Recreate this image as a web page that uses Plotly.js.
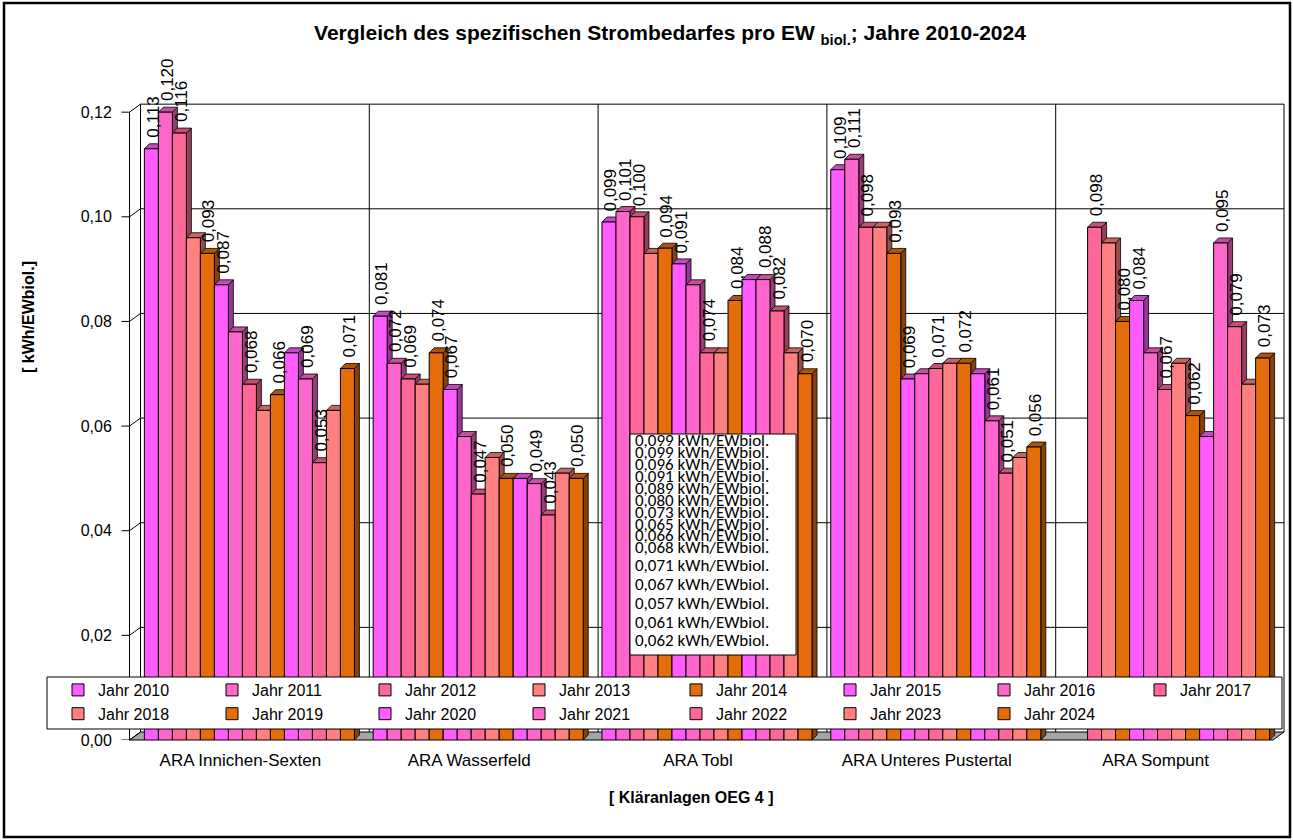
<!DOCTYPE html>
<html>
<head>
<meta charset="utf-8">
<script src="https://cdn.plot.ly/plotly-3.0.1.min.js"></script>
<style>
html,body{margin:0;padding:0;background:#fff;}
#chart{width:1293px;height:840px;}
</style>
</head>
<body>
<div id="chart"></div>
<script>
// ---------------- DATA ----------------
const categories = ['ARA Innichen-Sexten', 'ARA Wasserfeld', 'ARA Tobl', 'ARA Unteres Pustertal', 'ARA Sompunt'];
const seriesNames = ['Jahr 2010','Jahr 2011','Jahr 2012','Jahr 2013','Jahr 2014','Jahr 2015','Jahr 2016','Jahr 2017',
                     'Jahr 2018','Jahr 2019','Jahr 2020','Jahr 2021','Jahr 2022','Jahr 2023','Jahr 2024'];
// values per plant, one per year 2010..2024 (kWh/EWbiol.)
const innichenSexten   = [0.113,0.120,0.116,0.096,0.093,0.087,0.078,0.068,0.063,0.066,0.074,0.069,0.053,0.063,0.071];
const wasserfeld       = [0.081,0.072,0.069,0.068,0.074,0.067,0.058,0.047,0.054,0.050,0.050,0.049,0.043,0.051,0.050];
const tobl             = [0.099,0.101,0.100,0.093,0.094,0.091,0.087,0.074,0.074,0.084,0.088,0.088,0.082,0.074,0.070];
const unteresPustertal = [0.109,0.111,0.098,0.098,0.093,0.069,0.070,0.071,0.072,0.072,0.070,0.061,0.051,0.054,0.056];
const sompunt          = [null,null,0.098,0.095,0.080,0.084,0.074,0.067,0.072,0.062,0.058,0.095,0.079,0.068,0.073];
// series that carry data labels
const labeledSeries = ['Jahr 2010','Jahr 2011','Jahr 2012','Jahr 2014','Jahr 2015','Jahr 2017','Jahr 2019','Jahr 2021','Jahr 2022','Jahr 2024'];
// text box values
const boxValues = [0.099,0.099,0.096,0.091,0.089,0.080,0.073,0.065,0.066,0.068,0.071,0.067,0.057,0.061,0.062];
const boxUnit = 'kWh/EWbiol.';
const yTickValues = [0,0.02,0.04,0.06,0.08,0.10,0.12];

// ---------------- STYLE ----------------
const basePalette = ['#FF5BFF','#FF66CC','#FF6699','#FF8080','#E46C0A'];
const FONT = 'Liberation Sans, Arial, sans-serif';
const legendColumnTextX = [95, 249, 402, 556, 713, 867, 1021, 1177];   // px where legend texts start

const W = 1293, H = 840, mL = 47, mR = 9, mT = 86, mB = 100;
const PW = W - mL - mR, PH = H - mT - mB;
const AX0 = 135;                  // px where the category axis starts
const CW = 228.8;                 // px per category
const AXW = W - mR - AX0;
const xRange = [-0.5, -0.5 + AXW / CW];
const YMAX = 0.125, PPU = PH / YMAX;
const BARGAP = 0.082, NS = seriesNames.length;
const BWC = (1 - BARGAP) / NS, BWPX = BWC * CW;
const DX = 5, DY = 5;             // bar depth in px
const WX = 11, WY = 8;            // wall depth in px
const FRONTX = AX0 - WX / 2, BACKX = AX0 + WX / 2;
const px2x = p => (p - mL) / PW;
const py2y = p => (H - mB - p) / PH;
const fmt = v => v.toFixed(3).replace('.', ',');
const legendKey = c => c === 0 ? 'legend' : 'legend' + (c + 1);

function shade(hex, f) {
  const n = parseInt(hex.slice(1), 16);
  const r = Math.round(((n >> 16) & 255) * f), g = Math.round(((n >> 8) & 255) * f), b = Math.round((n & 255) * f);
  return 'rgb(' + r + ',' + g + ',' + b + ')';
}

const plants = [innichenSexten, wasserfeld, tobl, unteresPustertal, sompunt];

const traces = seriesNames.map((name, i) => ({
  type: 'bar', name: name, x: categories, y: plants.map(p => p[i]),
  marker: {color: basePalette[i % 5], line: {color: '#000', width: 1}},
  legend: legendKey(i % 8),
  hoverinfo: 'skip'
}));

const shapes = [];
const annotations = [];
const thin = {color: '#000', width: 1};
// floor
shapes.push({type: 'path', xref: 'paper', yref: 'paper', layer: 'below',
  path: 'M' + px2x(FRONTX) + ',' + py2y(740) + ' L' + px2x(W - mR - WX) + ',' + py2y(740) +
        ' L' + px2x(W - mR) + ',' + py2y(740 - WY) + ' L' + px2x(BACKX) + ',' + py2y(740 - WY) + ' Z',
  fillcolor: '#A6A6A6', line: thin});
// back wall outline: left + right edges
shapes.push({type: 'line', xref: 'paper', yref: 'paper', layer: 'below',
  x0: px2x(FRONTX + WX), x1: px2x(FRONTX + WX), y0: py2y(740 - WY), y1: py2y(740 - WY - 0.12 * PPU), line: thin});
shapes.push({type: 'line', xref: 'paper', yref: 'paper', layer: 'below',
  x0: 1, x1: 1, y0: py2y(740 - WY), y1: py2y(740 - WY - 0.12 * PPU), line: thin});
// horizontal grid lines on back wall + diagonal connectors + tick marks
yTickValues.forEach(v => {
  if (v > 0) {
    shapes.push({type: 'line', xref: 'paper', yref: 'y', ysizemode: 'pixel', yanchor: v, layer: 'below',
      x0: px2x(FRONTX + WX), x1: 1, y0: WY, y1: WY, line: thin});
  }
  shapes.push({type: 'line', xref: 'paper', yref: 'y', ysizemode: 'pixel', yanchor: v, layer: 'below',
    x0: px2x(FRONTX), x1: px2x(FRONTX + WX), y0: 0, y1: WY, line: thin});
  shapes.push({type: 'line', xref: 'paper', yref: 'y', ysizemode: 'pixel', yanchor: v, layer: 'below',
    x0: px2x(FRONTX - 8), x1: px2x(FRONTX), y0: 0, y1: 0, line: thin});
});
// front y axis line
shapes.push({type: 'line', xref: 'paper', yref: 'paper', layer: 'below',
  x0: px2x(FRONTX), x1: px2x(FRONTX), y0: 0, y1: py2y(740 - 0.12 * PPU), line: thin});
// vertical wall lines at category boundaries
for (let b = 0; b < categories.length - 1; b++) {
  shapes.push({type: 'line', xref: 'x', yref: 'paper', xsizemode: 'pixel', xanchor: b + 0.5, layer: 'below',
    x0: WX / 2, x1: WX / 2, y0: py2y(740 - WY), y1: py2y(740 - WY - 0.12 * PPU), line: thin});
}
// 3D faces of bars + data labels
seriesNames.forEach((name, i) => {
  const col = basePalette[i % 5];
  const lab = labeledSeries.includes(name);
  plants.forEach((p, j) => {
    const v = p[i];
    if (v == null) return;
    const xr = j - 0.5 + BARGAP / 2 + (i + 1) * BWC;
    const hpx = v * PPU;
    shapes.push({type: 'path', layer: 'below', xref: 'x', yref: 'y', xsizemode: 'pixel', ysizemode: 'pixel',
      xanchor: xr, yanchor: v,
      path: 'M0,0 L' + DX + ',' + DY + ' L' + DX + ',' + (DY - hpx) + ' L0,' + (-hpx) + ' Z',
      fillcolor: shade(col, 0.6), line: {color: '#000', width: 0.8}});
    shapes.push({type: 'path', layer: 'below', xref: 'x', yref: 'y', xsizemode: 'pixel', ysizemode: 'pixel',
      xanchor: xr, yanchor: v,
      path: 'M' + (-BWPX) + ',0 L0,0 L' + DX + ',' + DY + ' L' + (DX - BWPX) + ',' + DY + ' Z',
      fillcolor: shade(col, 0.78), line: {color: '#000', width: 0.8}});
    if (lab) {
      annotations.push({xref: 'x', yref: 'y', x: xr - BWC / 2, y: v, xanchor: 'center', yanchor: 'bottom',
        xshift: 2, yshift: 9, textangle: -90, showarrow: false, text: fmt(v),
        font: {family: FONT, size: 17, color: '#000'}});
    }
  });
});
// legend box
shapes.push({type: 'rect', xref: 'paper', yref: 'paper', layer: 'above',
  x0: px2x(47), x1: px2x(1282), y0: py2y(729), y1: py2y(677), fillcolor: '#fff', line: thin});
// text box in Tobl group
shapes.push({type: 'rect', xref: 'paper', yref: 'paper', layer: 'above',
  x0: px2x(630), x1: px2x(796), y0: py2y(655), y1: py2y(434), fillcolor: '#fff', line: thin});
// outer frame
shapes.push({type: 'rect', xref: 'paper', yref: 'paper', layer: 'above',
  x0: px2x(4), x1: px2x(1290), y0: py2y(837), y1: py2y(3), fillcolor: 'rgba(0,0,0,0)', line: {color: '#000', width: 2.5}});

annotations.push({xref: 'paper', yref: 'paper', x: px2x(28), y: py2y(317), xanchor: 'center', yanchor: 'middle',
  showarrow: false, textangle: -90,
  text: '<b>[ kWh/EWbiol.]</b>', font: {family: FONT, size: 16, color: '#000'}});
annotations.push({xref: 'paper', yref: 'paper', x: px2x(691), y: py2y(797), xanchor: 'center', yanchor: 'middle',
  showarrow: false,
  text: '<b>[ Kläranlagen OEG 4 ]</b>', font: {family: FONT, size: 16, color: '#000'}});
boxValues.forEach((v, k) => {
  const yp = k < 10 ? 440.7 + k * 11.9 : 565.7 + (k - 10) * 18.8;
  annotations.push({xref: 'paper', yref: 'paper', x: px2x(633), y: py2y(yp), xanchor: 'left', yanchor: 'middle',
    showarrow: false, text: fmt(v) + ' ' + boxUnit,
    font: {family: 'Carlito, Lato, sans-serif', size: 17, color: '#000'}});
});

const layout = {
  width: W, height: H,
  margin: {l: mL, r: mR, t: mT, b: mB, pad: 0},
  paper_bgcolor: '#fff', plot_bgcolor: '#fff',
  separators: ',.',
  font: {family: FONT, color: '#000'},
  title: {text: '<b>Vergleich des spezifischen Strombedarfes pro EW <sub>biol.</sub>; Jahre 2010-2024</b>',
    font: {family: FONT, size: 21, color: '#000'}, xref: 'container', yref: 'container',
    x: 670 / W, y: 1 - 33 / H, xanchor: 'center', yanchor: 'middle'},
  barmode: 'group', bargap: BARGAP, bargroupgap: 0,
  xaxis: {type: 'category', domain: [px2x(AX0), 1], range: xRange, showgrid: false, zeroline: false, showline: false,
    ticks: 'outside', ticklen: 5, tickcolor: 'rgba(0,0,0,0)', ticklabelshift: -9,
    tickfont: {family: FONT, size: 17, color: '#000'}},
  yaxis: {range: [0, YMAX], tickvals: yTickValues, tickformat: '.2f', showgrid: false, zeroline: false, showline: false,
    ticks: 'outside', ticklen: 19, tickcolor: 'rgba(0,0,0,0)', tickfont: {family: FONT, size: 16, color: '#000'}},
  showlegend: true,
  shapes: shapes, annotations: annotations, hovermode: false
};
legendColumnTextX.forEach((tx, c) => {
  layout[legendKey(c)] = {orientation: 'v', x: px2x(tx - 37), xanchor: 'left', y: py2y(673), yanchor: 'top',
    bgcolor: 'rgba(0,0,0,0)', borderwidth: 0, font: {family: FONT, size: 16, color: '#000'},
    traceorder: 'normal', itemwidth: 30, tracegroupgap: 0};
});

Plotly.newPlot('chart', traces, layout, {staticPlot: true, displayModeBar: false});
</script>
</body>
</html>
